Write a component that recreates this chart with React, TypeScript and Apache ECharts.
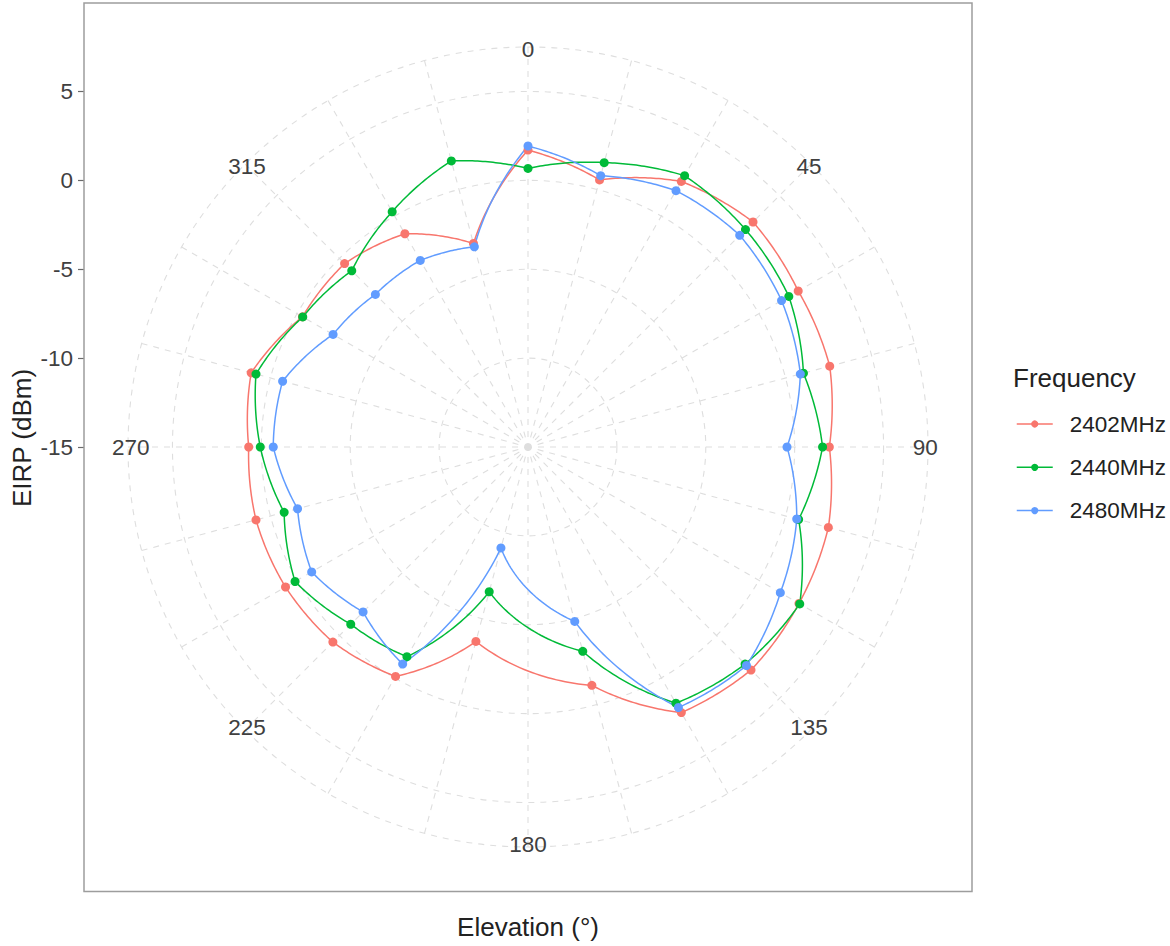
import React, { useEffect, useRef } from 'react';
import * as echarts from 'echarts';

// Elevation angles (deg) at which EIRP was measured (no 180° sample)
const ANGLES = [0, 15, 30, 45, 60, 75, 90, 105, 120, 135, 150, 165, 195, 210, 225, 240, 255, 270, 285, 300, 315, 330, 345];
// EIRP (dBm) per frequency
const EIRP_2402 = [1.70, 0.55, 2.25, 2.90, 2.55, 2.57, 1.95, 2.49, 2.60, 2.74, 2.25, -1.12, -3.68, -0.10, 0.52, 0.75, 0.84, 0.71, 1.12, -0.35, -0.41, -1.15, -3.15];
const EIRP_2440 = [0.67, 1.56, 2.62, 2.30, 1.94, 1.04, 1.57, 0.76, 2.65, 2.27, 1.64, -3.10, -6.57, -1.38, -0.90, 0.13, -0.80, 0.06, 0.84, -0.37, -0.98, 0.28, 1.66];
const EIRP_2480 = [1.93, 0.80, 1.65, 1.84, 1.47, 0.86, -0.43, 0.65, 1.39, 2.38, 1.92, -4.84, -9.12, -0.90, -1.88, -0.95, -1.58, -0.67, -0.71, -2.34, -2.86, -2.88, -3.34];
const SERIES_NAMES = ['2402MHz', '2440MHz', '2480MHz'];
const SERIES_VALUES = [EIRP_2402, EIRP_2440, EIRP_2480];
const COLORS = ['#F8766D', '#00BA38', '#619CFF'];

// Axis ticks
const R_TICKS = [-15, -10, -5, 0, 5];
const ANGLE_TICKS = [0, 45, 90, 135, 180, 225, 270, 315];
const R_MIN = -15;
const R_MAX = 7.5;
const LABEL_R = 7.35;

const FONT = '"Liberation Sans", Arial, Helvetica, sans-serif';
const MUNCH = 30;
const TICK_TEXT = '#404040';

export default function App() {
  const ref = useRef<HTMLDivElement>(null);

  useEffect(() => {
    document.body.style.margin = '0';
    const chart = echarts.init(ref.current as HTMLDivElement, null, { renderer: 'svg' });

    const gridLine = { color: '#dedede', width: 1.1, type: [6, 6] as any };

    const lineSeries: any[] = [];
    const curveSeries: any[] = [];
    SERIES_NAMES.forEach((name, si) => {
      const vals = SERIES_VALUES[si];
      const color = COLORS[si];
      const n = ANGLES.length;
      const segs = ANGLES.map((a, i) => {
        const j = (i + 1) % n;
        const a1 = j === 0 ? ANGLES[0] + 360 : ANGLES[j];
        return [vals[i], a, vals[j], a1];
      });
      curveSeries.push({
        type: 'custom',
        name,
        coordinateSystem: 'polar',
        polarIndex: 0,
        silent: true,
        z: 2,
        data: segs,
        renderItem: (params: any, api: any) => {
          const r0 = api.value(0);
          const a0 = api.value(1);
          const r1 = api.value(2);
          const a1 = api.value(3);
          const pts: number[][] = [];
          for (let k = 0; k <= MUNCH; k++) {
            const t = k / MUNCH;
            pts.push(api.coord([r0 + (r1 - r0) * t, a0 + (a1 - a0) * t]));
          }
          return {
            type: 'polyline',
            shape: { points: pts },
            style: { stroke: color, lineWidth: 1.5, fill: 'none' },
          };
        },
      });
      lineSeries.push({
        type: 'line',
        name,
        coordinateSystem: 'polar',
        polarIndex: 0,
        silent: true,
        z: 3,
        data: ANGLES.map((a, i) => [vals[i], a]),
        symbol: 'circle',
        symbolSize: 9,
        showSymbol: true,
        showAllSymbol: true,
        lineStyle: { opacity: 0, width: 1.5, color },
        itemStyle: { color },
      });
    });

    const option: any = {
      animation: false,
      backgroundColor: '#ffffff',
      textStyle: { fontFamily: FONT },
      polar: { center: [528, 447], radius: 400 },
      angleAxis: {
        type: 'value',
        polarIndex: 0,
        min: 0,
        max: 360,
        interval: 15,
        startAngle: 90,
        clockwise: true,
        axisLine: { show: false },
        axisTick: { show: false },
        axisLabel: { show: false },
        splitLine: { show: true, lineStyle: gridLine },
      },
      radiusAxis: {
        type: 'value',
        polarIndex: 0,
        min: R_MIN,
        max: R_MAX,
        interval: 5,
        axisLine: { show: false },
        axisTick: { show: false },
        axisLabel: { show: false },
        splitLine: { show: true, lineStyle: gridLine },
      },
      grid: { left: 84, top: 47, width: 888, height: 400, containLabel: false, outerBoundsMode: 'none' },
      xAxis: { type: 'value', show: false, min: 0, max: 1 },
      yAxis: {
        type: 'value',
        min: R_MIN,
        max: R_MAX,
        interval: 5,
        position: 'left',
        axisLine: { show: false },
        axisTick: { show: true, length: 6, lineStyle: { color: '#6a6a6a', width: 1.2 }, customValues: R_TICKS },
        axisLabel: { customValues: R_TICKS, margin: 11, fontSize: 22.5, color: TICK_TEXT, fontFamily: FONT },
        splitLine: { show: false },
      },
      legend: {
        orient: 'vertical',
        left: 1016,
        top: 412,
        padding: 0,
        itemWidth: 36,
        itemHeight: 9,
        itemGap: 19.3,
        selectedMode: false,
        data: SERIES_NAMES,
        lineStyle: { width: 1.5, opacity: 1 },
        textStyle: { fontSize: 22.5, color: '#222', lineHeight: 24, padding: [0, 0, 0, 12], fontFamily: FONT },
      },
      graphic: [
        {
          type: 'rect',
          silent: true,
          z: 100,
          shape: { x: 84, y: 3, width: 888, height: 888.5 },
          style: { fill: 'none', stroke: '#9d9d9d', lineWidth: 1.5 },
        },
        {
          type: 'text',
          silent: true,
          x: 22,
          y: 438,
          rotation: Math.PI / 2,
          style: { text: 'EIRP (dBm)', fontSize: 26, fill: '#222', align: 'center', verticalAlign: 'middle', fontFamily: FONT },
        },
        {
          type: 'text',
          silent: true,
          x: 528,
          y: 927,
          style: { text: 'Elevation (°)', fontSize: 26, fill: '#222', align: 'center', verticalAlign: 'middle', fontFamily: FONT },
        },
        {
          type: 'text',
          silent: true,
          x: 1013,
          y: 378,
          style: { text: 'Frequency', fontSize: 26, fill: '#222', align: 'left', verticalAlign: 'middle', fontFamily: FONT },
        },
      ],
      series: [
        ...lineSeries,
        ...curveSeries,
        {
          type: 'scatter',
          name: 'angle-labels',
          coordinateSystem: 'polar',
          polarIndex: 0,
          silent: true,
          z: 4,
          symbolSize: 0,
          itemStyle: { opacity: 1, color: 'rgba(0,0,0,0)' },
          data: ANGLE_TICKS.map((a) => [LABEL_R, a]),
          label: {
            show: true,
            position: 'inside',
            formatter: (p: any) => String(p.value[1]),
            fontSize: 22.5,
            color: TICK_TEXT,
            opacity: 1,
            fontFamily: FONT,
          },
        },
      ],
    };

    chart.setOption(option);
    return () => {
      chart.dispose();
    };
  }, []);

  return <div ref={ref} style={{ width: 1170, height: 946 }} />;
}
